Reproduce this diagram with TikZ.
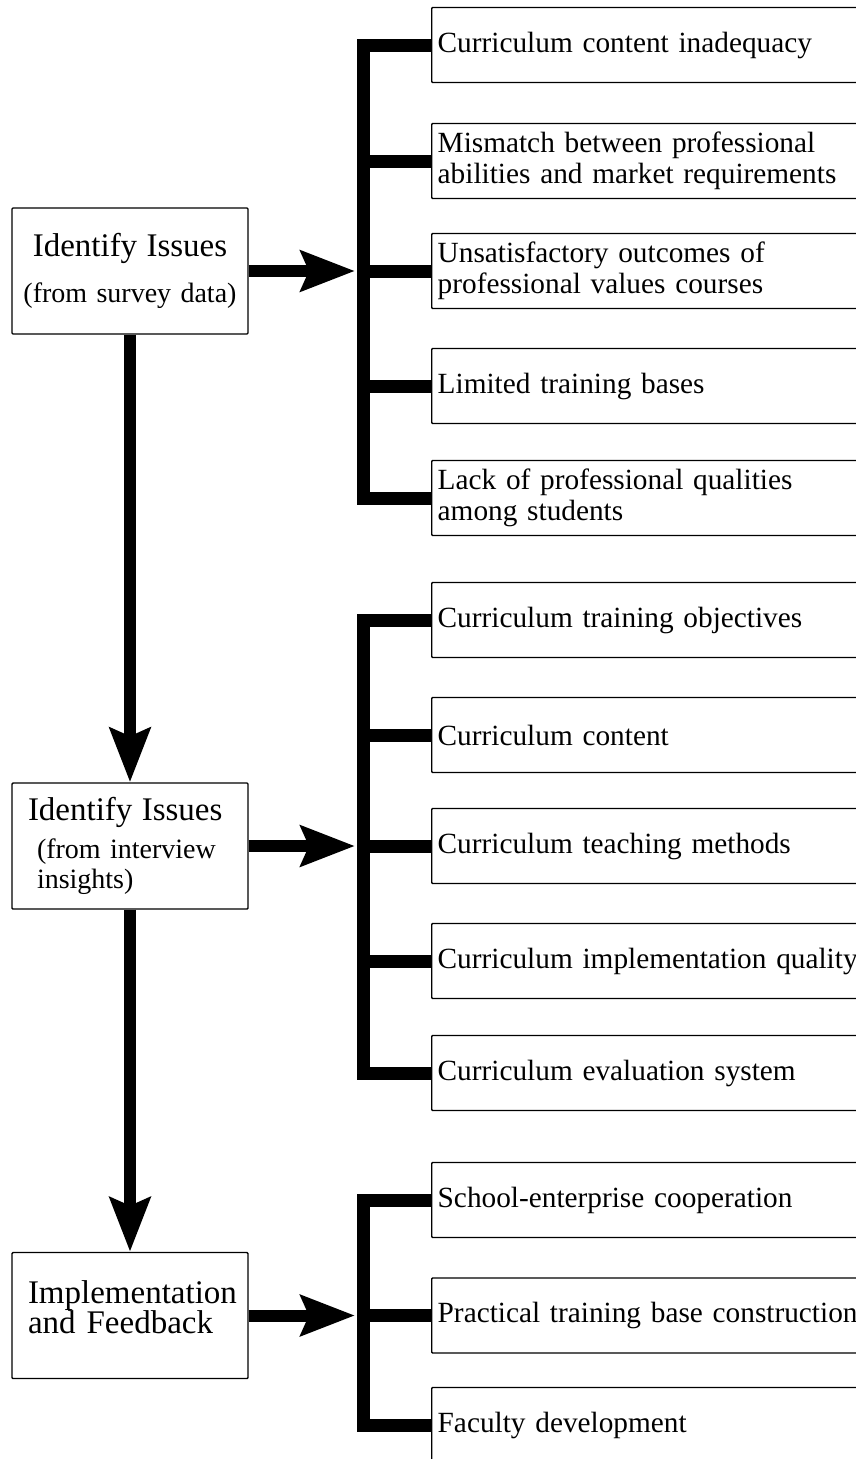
\documentclass[tikz,border=0pt]{standalone}
\usepackage{fontspec}
\setmainfont{Liberation Serif}
\usetikzlibrary{arrows.meta}

\newcommand\titlesize{\fontsize{33}{30}\selectfont}
\newcommand\subsize{\fontsize{28}{30}\selectfont}
\newcommand\itemsize{\fontsize{29.3}{31}\selectfont}

\tikzset{
  stage/.style={draw, line width=1.4pt, rounded corners=1pt, minimum width=236pt, minimum height=126pt,
    text width=204pt, inner xsep=16pt, font=\subsize},
  item/.style={draw, line width=1.4pt, rounded corners=1pt, anchor=west, minimum width=450pt, minimum height=75pt,
    text width=438pt, inner xsep=6pt, align=left, font=\itemsize},
  branch/.style={line width=13pt, line join=miter},
  flow/.style={line width=12pt, -{Stealth[length=54pt, width=40pt, inset=8pt]}}
}

\begin{document}
\begin{tikzpicture}[x=1pt, y=-1pt]
\useasboundingbox (0,0) rectangle (856,1459);

%the three stages on the left
\node[stage, align=center, text width=228pt, inner xsep=4pt] (survey) at (130,271) {{\titlesize Identify Issues}\\[16pt](from survey data)};
\node[stage, align=left] (interview) at (130,846) {{\titlesize Identify Issues}\\[8pt]\hspace*{9pt}(from interview\\\hspace*{9pt}insights)};
\node[stage, align=left, font=\titlesize, text depth=46pt] (feedback) at (130,1315.5) {Implementation\\and Feedback};

%issues from the survey
\node[item] (content) at (431,45) {Curriculum content inadequacy};
\node[item] (mismatch) at (431,161) {Mismatch between professional\\abilities and market requirements};
\node[item] (values) at (431,271) {Unsatisfactory outcomes of\\professional values courses};
\node[item] (bases) at (431,386) {Limited training bases};
\node[item] (qualities) at (431,498) {Lack of professional qualities\\among students};

%issues from the interviews
\node[item] (objectives) at (431,620) {Curriculum training objectives};
\node[item] (cont) at (431,735) {Curriculum content};
\node[item] (methods) at (431,846) {Curriculum teaching methods};
\node[item] (quality) at (431,961) {Curriculum implementation quality};
\node[item] (evaluation) at (431,1073) {Curriculum evaluation system};

%measures
\node[item] (coop) at (431,1200) {School-enterprise cooperation};
\node[item] (practice) at (431,1315.5) {Practical training base construction};
\node[item] (faculty) at (431,1425) {Faculty development};

%brackets
\draw[branch] (content.west) -- ++(-68,0) |- (qualities.west);
\draw[branch] (mismatch.west) -- ++(-68,0);
\draw[branch] (values.west) -- ++(-68,0);
\draw[branch] (bases.west) -- ++(-68,0);

\draw[branch] (objectives.west) -- ++(-68,0) |- (evaluation.west);
\draw[branch] (cont.west) -- ++(-68,0);
\draw[branch] (methods.west) -- ++(-68,0);
\draw[branch] (quality.west) -- ++(-68,0);

\draw[branch] (coop.west) -- ++(-68,0) |- (faculty.west);
\draw[branch] (practice.west) -- ++(-68,0);

%arrows
\coordinate (spine1) at (355,271);
\coordinate (spine2) at (355,846);
\coordinate (spine3) at (355,1315.5);
\draw[flow] (survey.east) -- (spine1);
\draw[flow] (interview.east) -- (spine2);
\draw[flow] (feedback.east) -- (spine3);

\draw[flow] (survey.south) -- (interview.north);
\draw[flow] (interview.south) -- (feedback.north);

\end{tikzpicture}
\end{document}
